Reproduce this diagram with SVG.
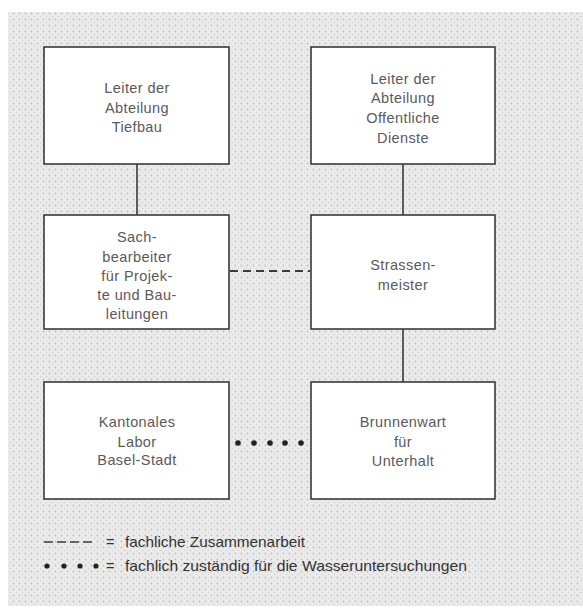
<svg xmlns="http://www.w3.org/2000/svg" width="583" height="610" viewBox="0 0 583 610">
<defs>
<pattern id="dots" width="6" height="6" patternUnits="userSpaceOnUse">
<rect width="6" height="6" fill="#ebebeb"/>
<circle cx="1.5" cy="1.5" r="0.9" fill="#c0c0c0"/>
<circle cx="4.5" cy="4.5" r="0.8" fill="#d0d0d0"/>
</pattern>
</defs>
<style>
.box{fill:#ffffff;stroke:#3a3a3a;stroke-width:1.6}
.lbl{font-family:"Liberation Sans",Arial,sans-serif;font-size:14.5px;letter-spacing:0.4px;fill:#5a5a5a;text-anchor:middle}
.leg{font-family:"Liberation Sans",Arial,sans-serif;font-size:14.5px;fill:#333}
.con{stroke:#3a3a3a;stroke-width:1.6;fill:none}
.dash{stroke:#3a3a3a;stroke-width:2;fill:none;stroke-dasharray:8,5}
.dot{fill:#222}
</style>
<rect x="0" y="0" width="583" height="610" fill="#ffffff"/>
<rect x="8" y="12" width="575" height="594" fill="url(#dots)"/>
<g id="connectors">
<line class="con" x1="137" y1="164" x2="137" y2="215"/>
<line class="con" x1="403" y1="164" x2="403" y2="215"/>
<line class="con" x1="403" y1="329" x2="403" y2="382"/>
<line class="dash" x1="230" y1="271" x2="310" y2="271"/>
<g class="dot">
<circle cx="238" cy="443" r="2.8"/>
<circle cx="254" cy="443" r="2.8"/>
<circle cx="270" cy="443" r="2.8"/>
<circle cx="285" cy="443" r="2.8"/>
<circle cx="301" cy="443" r="2.8"/>
</g>
</g>
<g id="n-tiefbau">
<rect class="box" x="44" y="47" width="185" height="117"/>
<text class="lbl" x="137" y="93">Leiter der</text>
<text class="lbl" x="137" y="113">Abteilung</text>
<text class="lbl" x="137" y="132">Tiefbau</text>
</g>
<g id="n-dienste">
<rect class="box" x="311" y="47" width="184" height="117"/>
<text class="lbl" x="403" y="84">Leiter der</text>
<text class="lbl" x="403" y="103">Abteilung</text>
<text class="lbl" x="403" y="123">Offentliche</text>
<text class="lbl" x="403" y="143">Dienste</text>
</g>
<g id="n-sachbearbeiter">
<rect class="box" x="44" y="215" width="185" height="114"/>
<text class="lbl" x="137" y="242">Sach-</text>
<text class="lbl" x="137" y="262">bearbeiter</text>
<text class="lbl" x="137" y="281">für Projek-</text>
<text class="lbl" x="137" y="300">te und Bau-</text>
<text class="lbl" x="137" y="319">leitungen</text>
</g>
<g id="n-strassenmeister">
<rect class="box" x="311" y="215" width="184" height="114"/>
<text class="lbl" x="403" y="270">Strassen-</text>
<text class="lbl" x="403" y="290">meister</text>
</g>
<g id="n-labor">
<rect class="box" x="44" y="382" width="185" height="117"/>
<text class="lbl" x="137" y="427">Kantonales</text>
<text class="lbl" x="137" y="447">Labor</text>
<text class="lbl" x="137" y="465">Basel-Stadt</text>
</g>
<g id="n-brunnenwart">
<rect class="box" x="311" y="382" width="184" height="117"/>
<text class="lbl" x="403" y="427">Brunnenwart</text>
<text class="lbl" x="403" y="447">für</text>
<text class="lbl" x="403" y="466">Unterhalt</text>
</g>
<g id="legend">
<line stroke="#3a3a3a" stroke-width="1.6" stroke-dasharray="9,4" x1="44" y1="542" x2="96" y2="542"/>
<text class="leg" x="106" y="547">=</text>
<text class="leg" x="125" y="547" textLength="180" lengthAdjust="spacingAndGlyphs">fachliche Zusammenarbeit</text>
<g class="dot">
<circle cx="47" cy="566" r="2.6"/>
<circle cx="64" cy="566" r="2.6"/>
<circle cx="80" cy="566" r="2.6"/>
<circle cx="96" cy="566" r="2.6"/>
</g>
<text class="leg" x="106" y="571">=</text>
<text class="leg" x="125" y="571" textLength="342" lengthAdjust="spacingAndGlyphs">fachlich zuständig für die Wasseruntersuchungen</text>
</g>
</svg>
